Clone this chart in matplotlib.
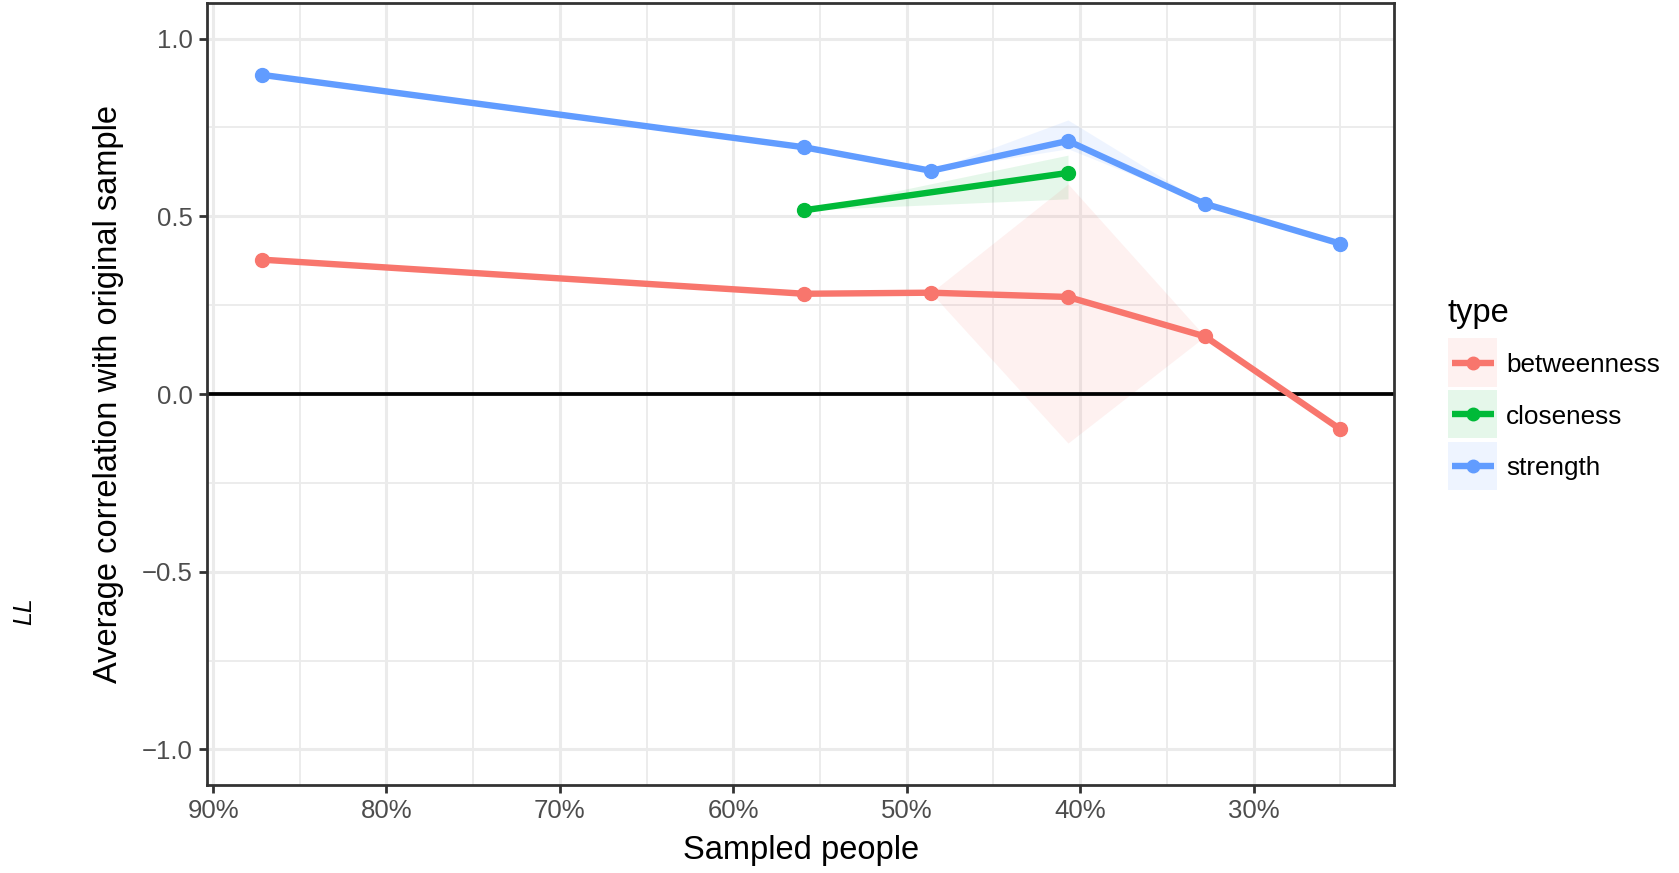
import matplotlib
matplotlib.use("Agg")
import matplotlib.pyplot as plt
from matplotlib.lines import Line2D
from matplotlib.patches import Rectangle
from matplotlib.ticker import FuncFormatter, MultipleLocator

plt.rcParams["font.family"] = ["Liberation Sans", "DejaVu Sans"]

# proportion of sampled people (%) and mean correlation per centrality index
sampled = [87.2, 55.9, 48.6, 40.7, 32.8, 25.0]
strength = [0.898, 0.694, 0.628, 0.712, 0.535, 0.423]
betweenness = [0.378, 0.282, 0.285, 0.273, 0.162, -0.099]
closeness_x = [55.9, 40.7]
closeness = [0.517, 0.622]

# quantile bands (only defined where bootstraps were available)
band_x_str = [48.6, 40.7, 32.8]
band_lo_str = [0.628, 0.690, 0.535]
band_hi_str = [0.628, 0.771, 0.535]
band_x_clo = [55.9, 40.7]
band_lo_clo = [0.517, 0.549]
band_hi_clo = [0.517, 0.672]
band_x_bet = [48.6, 40.7, 32.8]
band_lo_bet = [0.285, -0.138, 0.162]
band_hi_bet = [0.285, 0.591, 0.162]

tipos = ["betweenness", "closeness", "strength"]
cores = {"betweenness": "#F8766D", "closeness": "#00BA38", "strength": "#619CFF"}

W, H = 1679, 873
fig = plt.figure(figsize=(W / 100, H / 100), dpi=100)
ax = fig.add_axes([207 / W, 88 / H, (1394 - 207) / W, (785 - 3) / H])


def fx(px):
    return px / W


def fy(py):
    return 1 - py / H


# grid, ggplot theme_bw style
ax.set_axisbelow(True)
ax.xaxis.set_major_locator(MultipleLocator(10))
ax.xaxis.set_minor_locator(MultipleLocator(5))
ax.yaxis.set_major_locator(MultipleLocator(0.5))
ax.yaxis.set_minor_locator(MultipleLocator(0.25))
ax.grid(which="major", color="#EBEBEB", linewidth=2.2)
ax.grid(which="minor", color="#EBEBEB", linewidth=1.3)

ax.fill_between(band_x_str, band_lo_str, band_hi_str, color=cores["strength"], alpha=0.1, lw=0)
ax.fill_between(band_x_clo, band_lo_clo, band_hi_clo, color=cores["closeness"], alpha=0.1, lw=0)
ax.fill_between(band_x_bet, band_lo_bet, band_hi_bet, color=cores["betweenness"], alpha=0.1, lw=0)

ax.axhline(0, color="black", linewidth=2.7, zorder=2)

lw, ms = 4.6, 10
ax.plot(sampled, betweenness, color=cores["betweenness"], lw=lw, marker="o", ms=ms, zorder=3)
ax.plot(closeness_x, closeness, color=cores["closeness"], lw=lw, marker="o", ms=ms, zorder=3)
ax.plot(sampled, strength, color=cores["strength"], lw=lw, marker="o", ms=ms, zorder=3)

ax.set_xlim(90.35, 21.9)
ax.set_ylim(-1.1, 1.1)
ax.xaxis.set_major_formatter(FuncFormatter(lambda v, p: f"{v:.0f}%"))
ax.yaxis.set_major_formatter(FuncFormatter(lambda v, p: f"{v:.1f}".replace("-", "\u2212")))

for s in ax.spines.values():
    s.set_color("#333333")
    s.set_linewidth(2.0)
ax.tick_params(which="major", length=6, width=2.0, color="#333333",
               labelsize=18.5, labelcolor="#4D4D4D", pad=4)
ax.tick_params(which="minor", length=0)

fig.text(fx(801), fy(859), "Sampled people", fontsize=23.5,
         ha="center", va="baseline")
fig.text(fx(117), fy(394), "Average correlation with original sample", fontsize=23.5,
         rotation=90, rotation_mode="anchor", ha="center", va="baseline")
fig.text(fx(24), fy(611), "LL", rotation=90, fontsize=18, style="italic",
         ha="center", va="center")

# legend: ribbon-coloured key box with line and point
fig.text(fx(1448), fy(321.7), "type", fontsize=23.5, ha="left", va="baseline")
for i, t in enumerate(tipos):
    top = 338.3 + i * 51.7
    fig.add_artist(Rectangle((fx(1448.3), fy(top + 48.4)), fx(48.4), 48.4 / H,
                             transform=fig.transFigure, facecolor=cores[t],
                             alpha=0.1, lw=0))
    yc = fy(top + 24.2)
    fig.add_artist(Line2D([fx(1451.5), fx(1493.5)], [yc, yc], transform=fig.transFigure,
                          color=cores[t], lw=lw, solid_capstyle="butt"))
    fig.add_artist(Line2D([fx(1472.5)], [yc], transform=fig.transFigure,
                          color=cores[t], marker="o", ms=ms * 0.9, lw=0))
    fig.text(fx(1506), yc, t, fontsize=18.8, ha="left", va="center_baseline")

fig.savefig("out.png", dpi=100)
